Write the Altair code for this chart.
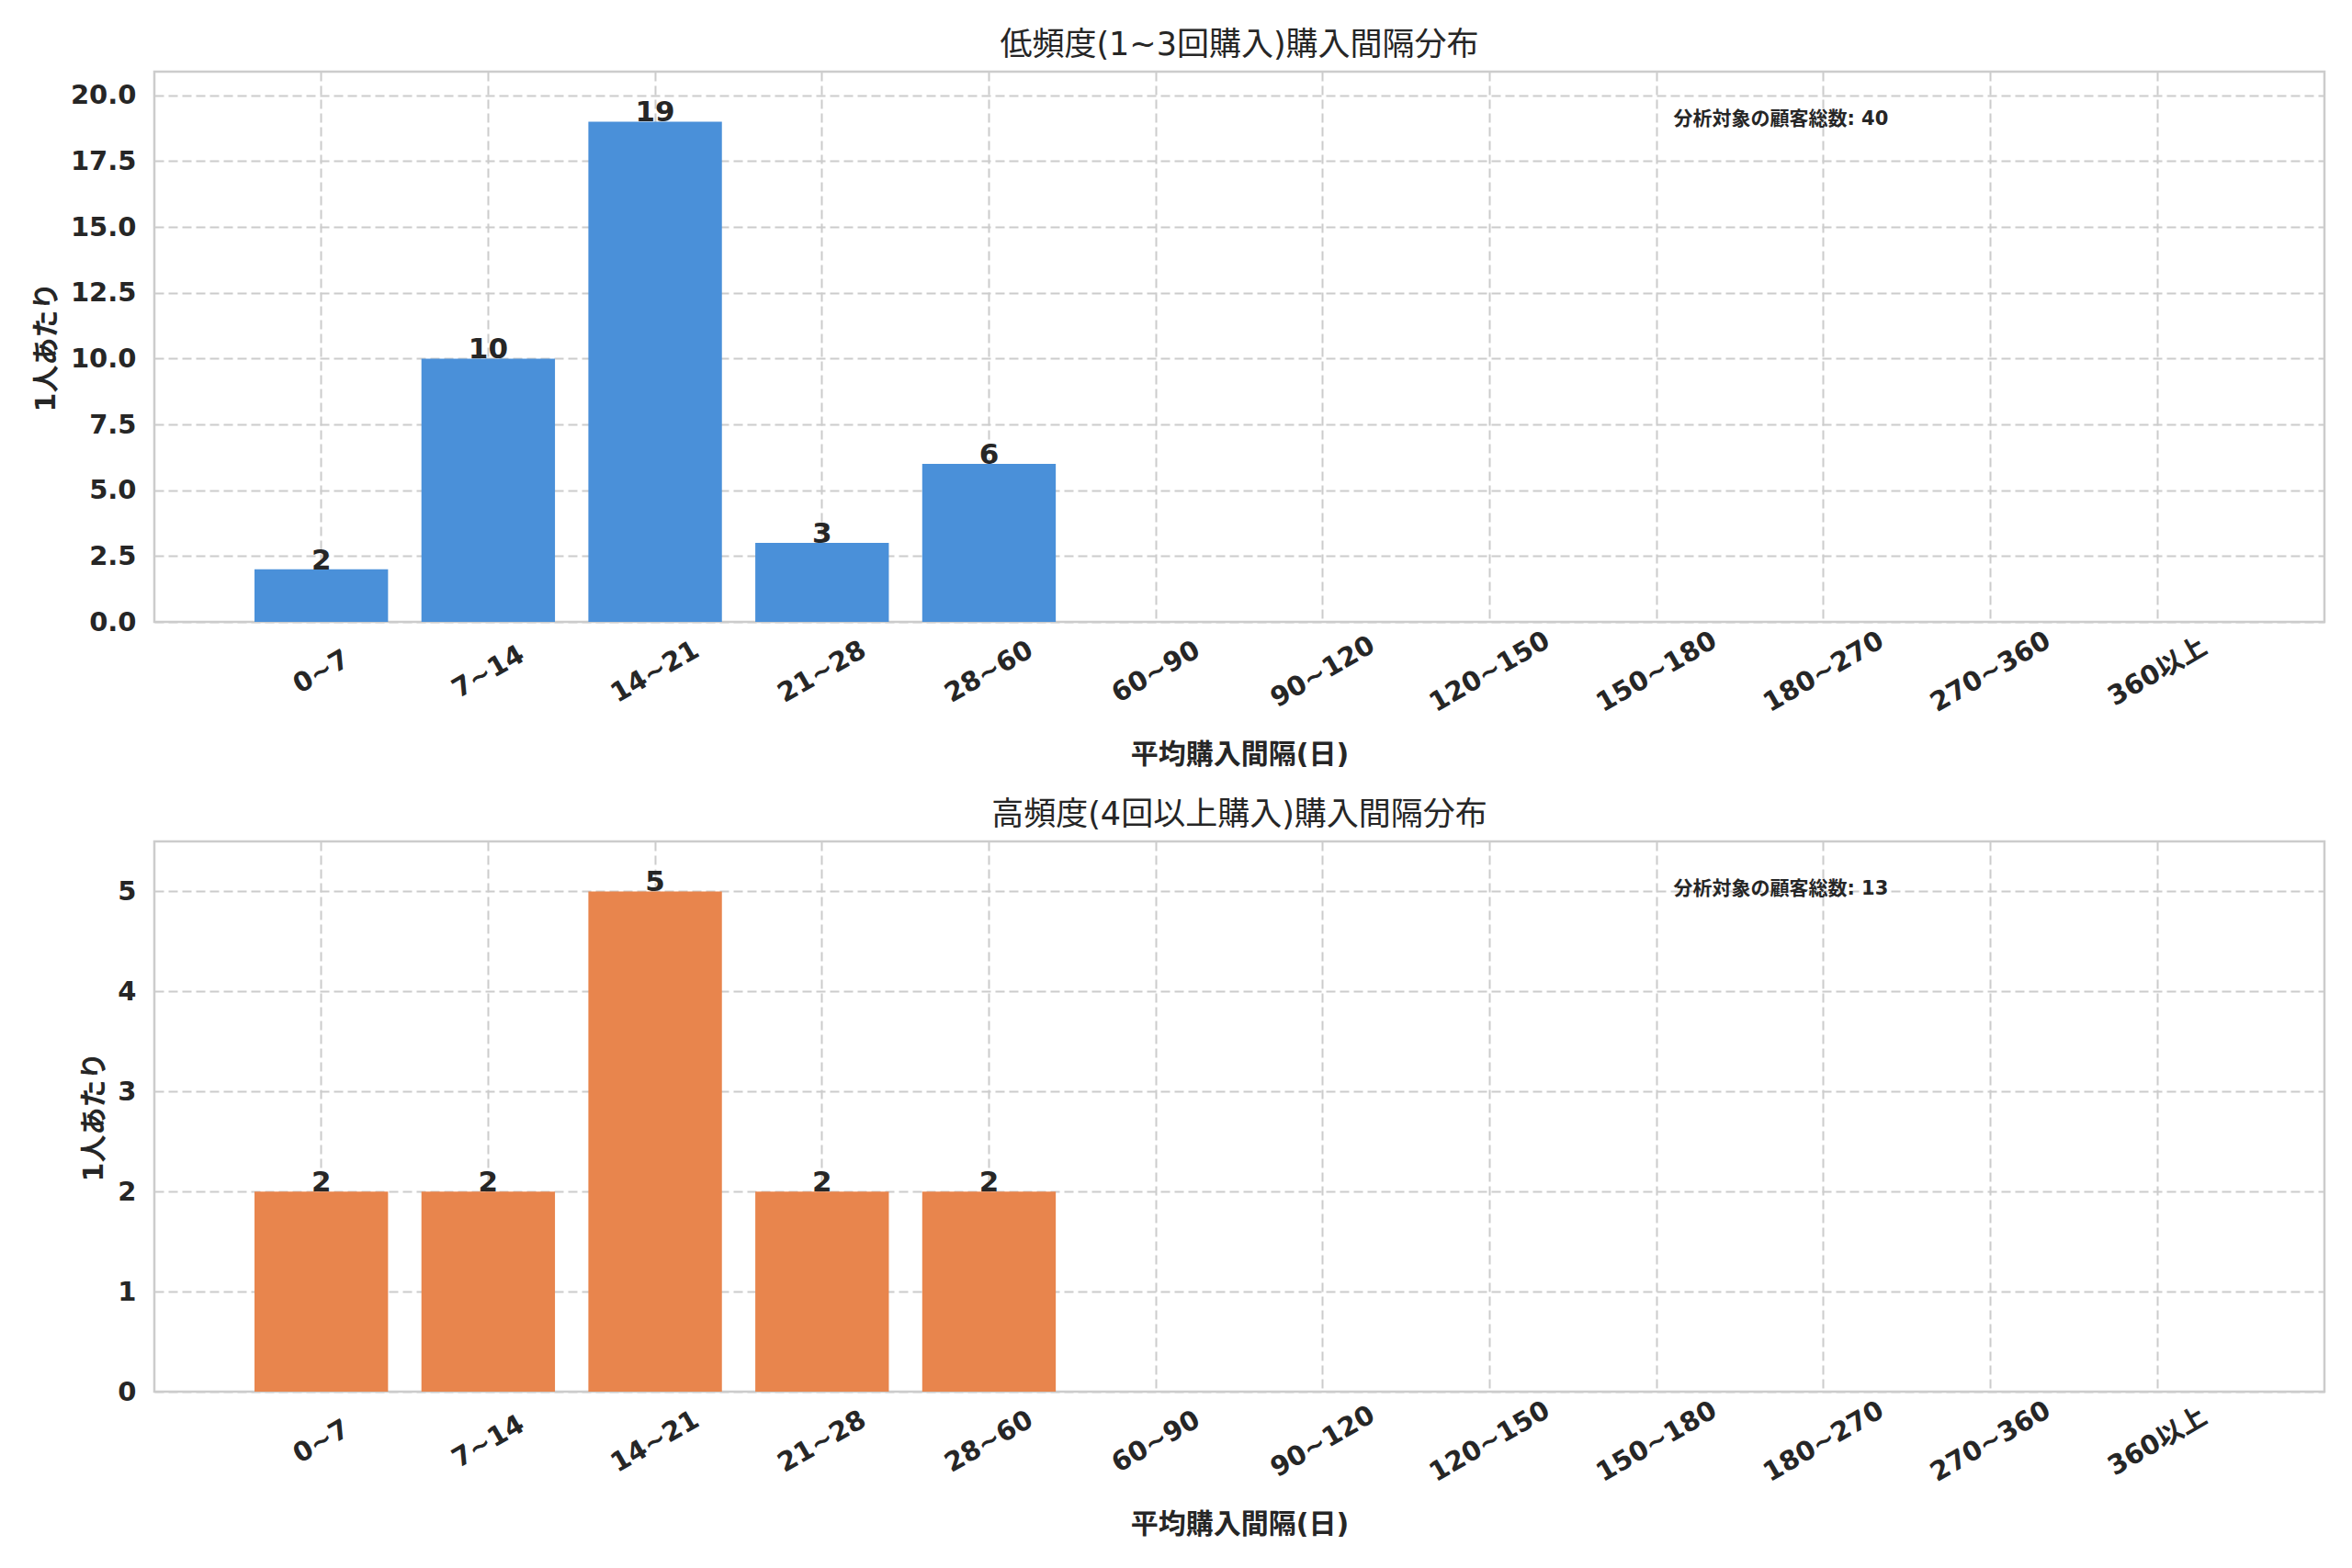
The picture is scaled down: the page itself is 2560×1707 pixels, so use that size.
import altair as alt
import pandas as pd

# ---------------- data ----------------
categories = ["0~7", "7~14", "14~21", "21~28", "28~60", "60~90", "90~120",
              "120~150", "150~180", "180~270", "270~360", "360以上"]
counts_low = [2, 10, 19, 3, 6, 0, 0, 0, 0, 0, 0, 0]
counts_high = [2, 2, 5, 2, 2, 0, 0, 0, 0, 0, 0, 0]
titles = ["低頻度(1~3回購入)購入間隔分布", "高頻度(4回以上購入)購入間隔分布"]
x_title = "平均購入間隔(日)"
y_title = "1人あたり"
note_label = "分析対象の顧客総数"
colors = ["#4A90D9", "#E8854D"]
y_ticks_low = [0, 2.5, 5, 7.5, 10, 12.5, 15, 17.5, 20]
y_ticks_high = [0, 1, 2, 3, 4, 5]

# ---------------- style ----------------
FONT = "DejaVu Sans, Noto Sans CJK JP"
TEXT = "#262626"
GRID = "#cccccc"
W, H = 2362, 599


def panel(counts, color, title, ticks, fmt, title_x):
    df = pd.DataFrame({"cat": categories, "n": counts})
    ymax = max(counts) * 1.1
    total = sum(counts)
    x = alt.X(
        "cat:N", sort=categories,
        scale=alt.Scale(paddingInner=0.2, paddingOuter=0.6),
        axis=alt.Axis(title=x_title, labelAngle=330, labelAlign="center",
                      labelBaseline="middle", labelPadding=54,
                      grid=True, titleY=144, titleBaseline="middle"),
    )
    y = alt.Y(
        "n:Q", scale=alt.Scale(domain=[0, ymax], nice=False),
        axis=alt.Axis(title=y_title, values=ticks, format=fmt, labelPadding=20,
                      titleX=title_x, titleBaseline="middle"),
    )
    bars = alt.Chart(df).mark_bar(color=color).encode(x=x, y=y)
    labels = (
        alt.Chart(df)
        .transform_filter("datum.n > 0")
        .mark_text(baseline="bottom", dy=7, fontSize=31, fontWeight="bold",
                   color=TEXT, font=FONT)
        .encode(x=alt.X("cat:N", sort=categories), y="n:Q", text="n:Q")
    )
    note = (
        alt.Chart(pd.DataFrame({"t": [f"{note_label}: {total}"]}))
        .mark_text(align="left", baseline="top", fontSize=21, fontWeight="bold",
                   color=TEXT, font=FONT)
        .encode(x=alt.value(W * 0.7), y=alt.value(41), text="t:N")
    )
    return alt.layer(bars, labels, note).properties(
        width=W, height=H,
        title=alt.Title(title, fontSize=35, fontWeight="normal", font=FONT,
                        color=TEXT, offset=-6, baseline="middle",
                        frame="group", anchor="middle"),
    )


top = panel(counts_low, colors[0], titles[0], y_ticks_low, ".1f", -118)
bottom = panel(counts_high, colors[1], titles[1], y_ticks_high, "d", -66)

chart = (
    alt.vconcat(top, bottom, spacing=239, bounds="flush")
    .properties(padding={"left": 25, "top": 22, "right": 20, "bottom": 20},
                background="white")
    .configure_view(stroke=GRID, strokeWidth=2.5)
    .configure_axis(
        labelFont=FONT, labelFontSize=29, labelFontWeight="bold", labelColor=TEXT,
        titleFont=FONT, titleFontSize=30, titleFontWeight="bold", titleColor=TEXT,
        gridColor=GRID, gridDash=[10, 5], gridWidth=2,
        ticks=False, domain=False,
    )
)

chart.save("out.html", embed_options={"renderer": "svg", "actions": False})
